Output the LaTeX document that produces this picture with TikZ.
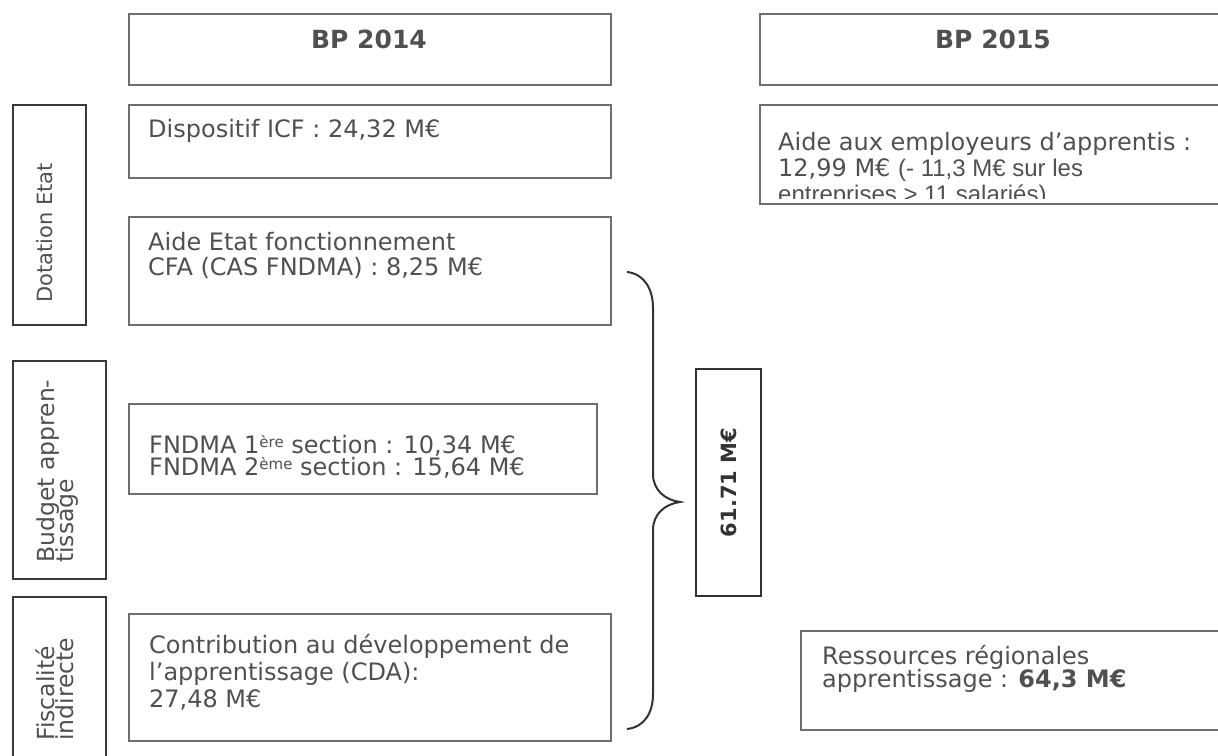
\documentclass[tikz,border=0pt]{standalone}
\usepackage{fontspec}
\setmainfont{DejaVu Sans}
\newfontfamily\arialfont{Liberation Sans}
\usetikzlibrary{positioning,calc}
\definecolor{inkgrey}{HTML}{505050}
\definecolor{framegrey}{HTML}{6E6E6E}
\definecolor{sidegrey}{HTML}{3A3A3A}
\definecolor{darkink}{HTML}{333333}
\newcommand{\supr}[1]{\raisebox{6pt}{\fontsize{15}{15}\selectfont #1}}
\tikzset{
  box/.style={draw=framegrey, line width=1.6pt, inner sep=0pt, anchor=north west},
  sidebox/.style={draw=sidegrey, line width=1.8pt, inner sep=0pt, anchor=north west},
  txt/.style={text=inkgrey, inner sep=0pt, align=left, anchor=base west},
  sidetxt/.style={txt, rotate=90, font=\fontsize{23.5}{19}\selectfont},
  head/.style={text=inkgrey, inner sep=0pt, anchor=base, font=\fontsize{25}{25}\selectfont\bfseries},
  bracepen/.style={draw=darkink, line width=2pt},
}

\begin{document}
\lineskiplimit=-100pt
\begin{tikzpicture}[x=1pt, y=-1pt]
  \useasboundingbox (0,0) rectangle (1218,755);
  \clip (0,0) rectangle (1218,755);

  % headers
  \node[box, minimum width=482, minimum height=71] (bp14) at (128,13) {};
  \node[box, minimum width=500, minimum height=71] (bp15) at (759,13) {};
  \node[head] (bp14txt) at (369,48) {BP 2014};
  \node[head] (bp15txt) at (993,48) {BP 2015};

  % left labels (multi-line nodes sit on their last baseline)
  \node[sidebox, minimum width=73, minimum height=220] (dotation) at (12,104) {};
  \node[sidebox, minimum width=93, minimum height=218] (budget) at (12,360) {};
  \node[sidebox, minimum width=93, minimum height=200] (fiscal) at (12,596) {};
  \node[sidetxt, font=\fontsize{21}{19}\selectfont] (dotationtxt) at (52,303) {Dotation Etat};
  \node[sidetxt] (budgettxt) at (73,563) {Budget appren-\\tissage};
  \node[sidetxt] (fiscaltxt) at (73,741) {Fiscalité\\indirecte};

  % BP 2014 column
  \node[box, minimum width=482, minimum height=73] (icf) at (128,104) {};
  \node[box, minimum width=482, minimum height=108] (cfa) at (128,216) {};
  \node[box, minimum width=468, minimum height=90] (fndma) at (128,403) {};
  \node[box, minimum width=482, minimum height=127] (cda) at (128,613) {};
  \node[txt, font=\fontsize{24}{25}\selectfont] (icftxt) at (148,137)
    {Dispositif ICF : 24,32 M€};
  \node[txt, font=\fontsize{24}{25}\selectfont] (cfatxt) at (148,275)
    {Aide Etat fonctionnement\\CFA (CAS FNDMA) : 8,25 M€};
  \node[txt, font=\fontsize{24}{22}\selectfont] (fndmatxt) at (149,475)
    {FNDMA 1\supr{ère} section : 10,34 M€\\FNDMA 2\supr{ème} section : 15,64 M€};
  \node[txt, font=\fontsize{24}{27}\selectfont] (cdatxt) at (149,707)
    {Contribution au développement de\\l’apprentissage (CDA):\\27,48 M€};

  % brace and total
  \coordinate (bracetop) at (627,272);
  \coordinate (bracetip) at (680,502);
  \coordinate (bracebot) at (627,729);
  \draw[bracepen] (bracetop) .. controls (645,274) and (653,290) .. (653,308)
    -- (653,474) .. controls (653,490) and (665,500) .. (bracetip)
    .. controls (665,504) and (653,514) .. (653,530)
    -- (653,694) .. controls (653,712) and (645,727) .. (bracebot);
  \node[draw=darkink, line width=2pt, rotate=90, minimum width=227, minimum height=65,
    inner sep=0pt, text=darkink, font=\fontsize{21}{21}\selectfont\bfseries]
    (total) at (728.5,482.5) {61.71 M€};

  % BP 2015 column
  \node[box, minimum width=500, minimum height=99] (apprentis) at (759,104) {};
  \begin{scope}
    \clip (759,104) rectangle (1218,198);
    \node[txt, font=\fontsize{24}{26}\selectfont] (apprentistxt) at (778,202)
      {Aide aux employeurs d’apprentis :\\12,99 M€ {\arialfont (- 11,3 M€ sur les}\\{\arialfont entreprises > 11 salariés)}};
  \end{scope}
  \node[box, minimum width=450, minimum height=99] (ressources) at (800,630) {};
  \node[txt, font=\fontsize{24}{23}\selectfont] (ressourcestxt) at (822,687)
    {Ressources régionales\\apprentissage : \textbf{64,3 M€}};
\end{tikzpicture}
\end{document}
